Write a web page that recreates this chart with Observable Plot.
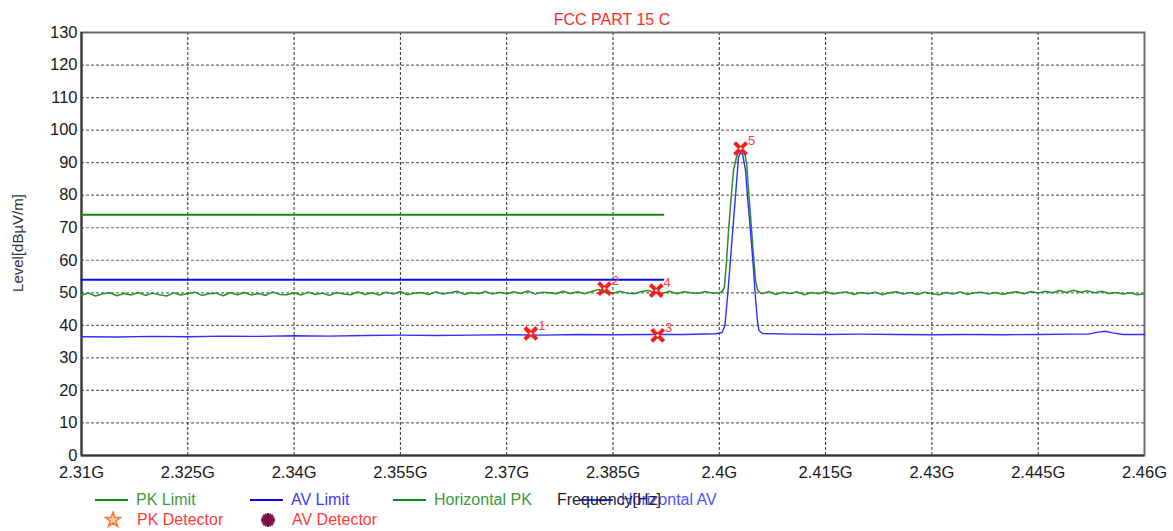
<!DOCTYPE html>
<html>
<head>
<meta charset="utf-8">
<script src="https://cdn.jsdelivr.net/npm/d3@7"></script>
<script src="https://cdn.jsdelivr.net/npm/@observablehq/plot@0.6"></script>
<style>
  body { margin: 0; background: #fff; font-family: "Liberation Sans", Arial, sans-serif; }
  #wrap { position: relative; width: 1173px; height: 531px; overflow: hidden; background: #fff; }
  #chart { position: absolute; left: 0; top: 0; }
  .abs { position: absolute; white-space: nowrap; font-size: 16px; line-height: 18px; }
  .swatch { position: absolute; height: 0; border-top: 2px solid; }
  #title { left: 0; width: 1224px; text-align: center; top: 11px; color: #ff2a2a; }
  #xlabel { left: 557px; top: 491px; color: #1e1e2e; z-index: 3; }
</style>
</head>
<body>
<div id="wrap">
  <div id="chart"></div>
  <div id="title" class="abs">FCC PART 15 C</div>
  <div id="legend"></div>
  <div id="xlabel" class="abs">Frequency[Hz]</div>
</div>
<script>
// ---------- data ----------
const xTicks = [2.31, 2.325, 2.34, 2.355, 2.37, 2.385, 2.4, 2.415, 2.43, 2.445, 2.46];
const xTickLabels = ["2.31G", "2.325G", "2.34G", "2.355G", "2.37G", "2.385G", "2.4G", "2.415G", "2.43G", "2.445G", "2.46G"];
const yTicks = [0, 10, 20, 30, 40, 50, 60, 70, 80, 90, 100, 110, 120, 130];

const limitFreq = [2.31, 2.3921];
const pkLimitLevel = [74, 74];
const avLimitLevel = [54, 54];

const hPkFreq = [
  2.310, 2.311, 2.312, 2.313, 2.314, 2.315, 2.316, 2.317, 2.318, 2.319,
  2.320, 2.321, 2.322, 2.323, 2.324, 2.325, 2.326, 2.327, 2.328, 2.329,
  2.330, 2.331, 2.332, 2.333, 2.334, 2.335, 2.336, 2.337, 2.338, 2.339,
  2.340, 2.341, 2.342, 2.343, 2.344, 2.345, 2.346, 2.347, 2.348, 2.349,
  2.350, 2.351, 2.352, 2.353, 2.354, 2.355, 2.356, 2.357, 2.358, 2.359,
  2.360, 2.361, 2.362, 2.363, 2.364, 2.365, 2.366, 2.367, 2.368, 2.369,
  2.370, 2.371, 2.372, 2.373, 2.374, 2.375, 2.376, 2.377, 2.378, 2.379,
  2.380, 2.381, 2.382, 2.383, 2.384, 2.385, 2.386, 2.387, 2.388, 2.389,
  2.390, 2.391, 2.392, 2.393, 2.394, 2.395, 2.396, 2.397, 2.398, 2.399,
  2.4000, 2.4004, 2.4007, 2.4010, 2.4013, 2.4017, 2.4020, 2.4024, 2.4027,
  2.4032, 2.4036, 2.4039, 2.4041, 2.4044, 2.4048, 2.4051, 2.4054, 2.4058,
  2.406, 2.407, 2.408, 2.409, 2.410, 2.411, 2.412, 2.413, 2.414, 2.415,
  2.416, 2.417, 2.418, 2.419, 2.420, 2.421, 2.422, 2.423, 2.424, 2.425,
  2.426, 2.427, 2.428, 2.429, 2.430, 2.431, 2.432, 2.433, 2.434, 2.435,
  2.436, 2.437, 2.438, 2.439, 2.440, 2.441, 2.442, 2.443, 2.444, 2.445,
  2.446, 2.447, 2.448, 2.449, 2.450, 2.451, 2.452, 2.453, 2.454, 2.455,
  2.456, 2.457, 2.458, 2.459, 2.460
];
const hPkLevel = [
  49.3, 49.9, 49.0, 49.7, 50.0, 49.1, 49.8, 49.3, 50.1, 49.2,
  49.9, 49.4, 49.0, 50.0, 49.3, 49.8, 50.2, 49.2, 49.7, 49.9,
  49.1, 50.0, 49.4, 50.1, 49.3, 49.8, 49.2, 50.3, 49.5, 49.4,
  50.0, 49.3, 50.2, 49.5, 49.9, 49.2, 50.1, 49.6, 49.4, 50.3,
  49.5, 50.0, 49.3, 50.2, 49.6, 50.4, 49.4, 49.9, 50.1, 49.5,
  50.3, 49.6, 50.0, 50.5, 49.5, 50.1, 49.7, 50.4, 49.6, 50.2,
  49.7, 50.3, 49.8, 50.6, 49.6, 50.2, 50.0, 49.7, 50.5, 49.8,
  50.3, 49.7, 50.4, 51.0, 50.0, 49.8, 50.5, 49.9, 49.7, 50.4,
  50.7, 49.9, 49.8, 50.5, 49.7, 50.3, 50.0, 49.8, 50.4, 49.9,
  50.1, 50.4, 51.5, 59.0, 69.0, 80.0, 87.6, 91.5, 93.2,
  93.8, 93.0, 89.0, 82.0, 74.0, 62.0, 54.0, 50.8, 50.0,
  49.7, 50.4, 49.5, 50.2, 49.8, 50.3, 49.4, 50.1, 49.7, 50.4,
  49.6, 50.0, 50.3, 49.5, 50.1, 49.7, 50.2, 49.4, 50.0, 50.3,
  49.6, 50.1, 49.5, 50.2, 49.7, 49.4, 50.1, 49.6, 50.3, 49.5,
  50.0, 50.2, 49.6, 50.1, 49.5, 50.0, 50.3, 49.7, 50.4, 49.9,
  50.5, 50.0, 50.7, 50.1, 50.8, 50.2, 50.6, 50.0, 50.5, 49.8,
  50.1, 49.6, 50.0, 49.4, 49.7
];

const hAvFreq = [
  2.310, 2.315, 2.320, 2.325, 2.330, 2.335, 2.340, 2.345, 2.350, 2.355,
  2.360, 2.365, 2.370, 2.375, 2.380, 2.385, 2.390, 2.395, 2.3995, 2.4004,
  2.4008, 2.4012, 2.4016, 2.4020, 2.4024, 2.4027, 2.4030, 2.4033, 2.4037,
  2.4040, 2.4044, 2.4048, 2.4051, 2.4054, 2.4056, 2.4061,
  2.410, 2.415, 2.420, 2.425, 2.430, 2.435, 2.440, 2.445, 2.450, 2.452,
  2.4535, 2.4545, 2.4555, 2.457, 2.460
];
const hAvLevel = [
  36.5, 36.4, 36.6, 36.5, 36.7, 36.6, 36.8, 36.7, 36.9, 37.0,
  36.9, 37.0, 37.1, 37.0, 37.2, 37.1, 37.2, 37.2, 37.4, 37.8,
  40.0, 49.8, 61.0, 72.0, 83.0, 91.6, 93.1, 92.5, 87.6,
  79.0, 69.0, 58.0, 48.5, 41.0, 38.4, 37.5,
  37.3, 37.2, 37.3, 37.2, 37.1, 37.2, 37.1, 37.2, 37.3, 37.3,
  37.9, 38.2, 37.7, 37.2, 37.2
];

const markerNo = [1, 2, 3, 4, 5];
const markerFreq = [2.3734, 2.3838, 2.3913, 2.3911, 2.4030];
const markerLevel = [37.5, 51.3, 36.9, 50.7, 94.3];

// ---------- build rows ----------
const rows = (xs, ys) => xs.map((x, i) => ({x, y: ys[i]}));
const pkLimit = rows(limitFreq, pkLimitLevel);
const avLimit = rows(limitFreq, avLimitLevel);
const hPk = rows(hPkFreq, hPkLevel);
const hAv = rows(hAvFreq, hAvLevel);
const markers = markerNo.map((n, i) => ({n, x: markerFreq[i], y: markerLevel[i]}));
const xLabelMap = new Map(xTicks.map((t, i) => [t, xTickLabels[i]]));

const chart = Plot.plot({
  width: 1173,
  height: 482,
  marginLeft: 81,
  marginRight: 29,
  marginTop: 32,
  marginBottom: 27,
  style: {fontFamily: "Liberation Sans, Arial, sans-serif", fontSize: "16.5px", color: "#1a1a1a", background: "#fff"},
  x: {domain: [2.31, 2.46], ticks: xTicks, tickFormat: d => xLabelMap.get(d), tickSize: 0, tickPadding: 11, label: null},
  y: {domain: [0, 130], ticks: yTicks, tickSize: 0, tickPadding: 4, label: null},
  marks: [
    Plot.gridY(yTicks, {stroke: "#6e6e6e", strokeOpacity: 1, strokeDasharray: "3,2", strokeWidth: 1.2}),
    Plot.gridX(xTicks, {stroke: "#2a2a2a", strokeOpacity: 1, strokeDasharray: "3,2", strokeWidth: 1}),
    Plot.frame({stroke: "#6a6a6a", strokeWidth: 2}),
    Plot.ruleX([2.31], {stroke: "#333", strokeWidth: 2}),
    Plot.ruleY([0], {stroke: "#333", strokeWidth: 2}),
    Plot.line(pkLimit, {x: "x", y: "y", stroke: "#148c14", strokeWidth: 2}),
    Plot.line(avLimit, {x: "x", y: "y", stroke: "#0a0aee", strokeWidth: 2}),
    Plot.line(hPk, {x: "x", y: "y", stroke: "#2a8f2a", strokeWidth: 1.5}),
    Plot.line(hAv, {x: "x", y: "y", stroke: "#2f2fff", strokeWidth: 1.4}),
    Plot.dot(markers, {x: "x", y: "y", symbol: "times", r: 5.5, stroke: "#ff1a1a", strokeWidth: 4}),
    Plot.dot(markers, {x: "x", y: "y", r: 1.3, fill: "#fff"}),
    Plot.text(markers, {x: "x", y: "y", text: "n", dx: 11, dy: -8, fill: "#ff4040", fontSize: 13})
  ]
});
document.getElementById("chart").appendChild(chart);

// y-axis title (rotated)
const yl = document.createElement("div");
yl.className = "abs";
yl.textContent = "Level[dBµV/m]";
yl.style.cssText += "font-size:15px;color:#333;left:18px;top:243px;transform:translate(-50%,-50%) rotate(-90deg);";
document.getElementById("wrap").appendChild(yl);

// ---------- legend ----------
const legendLines = [
  {label: "PK Limit", line: "#148c14", text: "#3a9a3a", x: 95},
  {label: "AV Limit", line: "#0a0aee", text: "#3a3aff", x: 250},
  {label: "Horizontal PK", line: "#148c14", text: "#3a9a3a", x: 393},
  {label: "Horizontal AV", line: "#2f2fff", text: "#5050ff", x: 580}
];
const legend = document.getElementById("legend");
legendLines.forEach(d => {
  const sw = document.createElement("div");
  sw.className = "swatch";
  sw.style.cssText = `left:${d.x}px;top:499px;width:33px;border-top-color:${d.line};`;
  legend.appendChild(sw);
  const t = document.createElement("div");
  t.className = "abs";
  t.textContent = d.label;
  t.style.cssText = `left:${d.x + 41}px;top:491px;color:${d.text};`;
  legend.appendChild(t);
});
const starPath = d3.symbol().type(d3.symbolStar).size(70)();
const legendSyms = [
  {label: "PK Detector", x: 113, svg: `<path d="${starPath}" fill="#ffd0b0" stroke="#ff7a30" stroke-width="1.6"/>`},
  {label: "AV Detector", x: 268, svg: [0, 22.5, 45, 67.5, 90, 112.5, 135, 157.5].map(a => `<line x1="0" y1="-7" x2="0" y2="7" stroke="#7a0b45" stroke-width="2" transform="rotate(${a})"/>`).join("") + `<circle r="3" fill="#7a0b45"/>`}
];
legendSyms.forEach(d => {
  const s = document.createElement("div");
  s.className = "abs";
  s.style.cssText = `left:${d.x - 9}px;top:511px;`;
  s.innerHTML = `<svg width="18" height="18" viewBox="-9 -9 18 18">${d.svg}</svg>`;
  legend.appendChild(s);
  const t = document.createElement("div");
  t.className = "abs";
  t.textContent = d.label;
  t.style.cssText = `left:${d.x + 24}px;top:511px;color:#ff3b3b;`;
  legend.appendChild(t);
});
</script>
</body>
</html>
